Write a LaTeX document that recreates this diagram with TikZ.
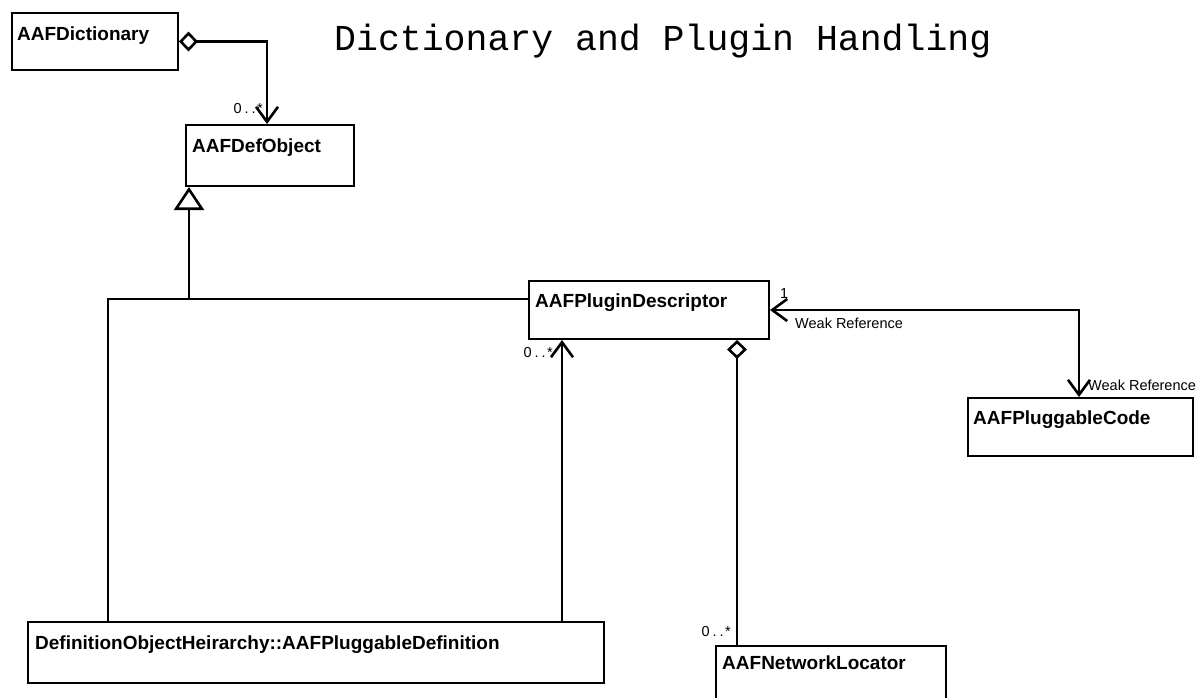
\documentclass[tikz,border=0pt]{standalone}
\usepackage{fontspec}
\setmainfont{Liberation Sans}
\newfontfamily\titlefont{Liberation Mono}
\usetikzlibrary{arrows.meta,calc}

\tikzset{
  barb/.tip={Straight Barb[length=15pt,width=22pt]},
  agg/.tip={Diamond[open,length=19pt,width=20pt]},
  gen/.tip={Triangle[open,length=23pt,width=30pt]},
}

\begin{document}
\begin{tikzpicture}[x=1pt,y=-1pt,
  classbox/.style={draw, line width=2pt, rectangle, inner sep=0pt, anchor=north west},
  classname/.style={anchor=base west, inner sep=0pt, font=\fontsize{19}{22}\selectfont\bfseries},
  conn/.style={line width=2.6pt, line join=miter},
  tag/.style={inner sep=0pt, font=\fontsize{14.5}{17}\selectfont},
  mult/.style={tag, anchor=base east},
]
\clip (0,0) rectangle (1199,697);
\fill[white] (0,0) rectangle (1199,697);

% title
\node[anchor=base west, inner sep=0pt, font=\titlefont\fontsize{36.5}{40}\selectfont]
  (title) at (334,50) {Dictionary and Plugin Handling};

% classes
\node[classbox, minimum width=166pt, minimum height=57pt] (dict)   at (11,12)   {};
\node[classbox, minimum width=168pt, minimum height=61pt] (defobj) at (185,124) {};
\node[classbox, minimum width=240pt, minimum height=58pt] (plugin) at (528,280) {};
\node[classbox, minimum width=225pt, minimum height=58pt] (code)   at (967,397) {};
\node[classbox, minimum width=576pt, minimum height=61pt] (pdef)   at (27,621)  {};
\node[classbox, minimum width=230pt, minimum height=62pt] (netloc) at (715,645) {};

\node[classname] (dictT)   at ($(dict.north west)+(6,28)$)   {AAFDictionary};
\node[classname] (defobjT) at ($(defobj.north west)+(7,28)$) {AAFDefObject};
\node[classname] (pluginT) at ($(plugin.north west)+(7,27)$) {AAFPluginDescriptor};
\node[classname] (codeT)   at ($(code.north west)+(6,27)$)   {AAFPluggableCode};
\node[classname] (pdefT)   at ($(pdef.north west)+(8,28)$)   {DefinitionObjectHeirarchy::AAFPluggableDefinition};
\node[classname] (netlocT) at ($(netloc.north west)+(7,24)$) {AAFNetworkLocator};

% dictionary owns its definitions
\coordinate (dictDrop) at ($(defobj.north west)+(82,0)$);
\draw[conn, agg-barb] (dict.east) -| (dictDrop);
\node[mult] (m1) at (263,113) {0\kern3pt.\kern3pt.\kern1.5pt*};

% generalization to AAFDefObject
\coordinate (hub)   at (189,299);
\coordinate (pdefL) at ($(pdef.north west)+(81,0)$);
\draw[conn] (pdefL) |- (plugin.west |- hub);
\draw[conn, -gen] (hub) -- (hub |- defobj.south);

% pluggable definitions refer to plugin descriptors
\coordinate (pdefR) at ($(pdef.north west)+(535,0)$);
\draw[conn, -barb] (pdefR) -- (pdefR |- plugin.south);
\node[mult] (m2) at (553,357) {0\kern3pt.\kern3pt.\kern1.5pt*};

% descriptor aggregates network locators
\coordinate (aggX) at (737,0);
\draw[conn, agg-] (aggX |- plugin.south) -- (aggX |- netloc.north);
\node[mult] (m3) at (731,636) {0\kern3pt.\kern3pt.\kern1.5pt*};

% weak references between descriptor and code
\coordinate (codeDrop) at ($(code.north west)+(112,0)$);
\draw[conn, barb-barb] (plugin.east) -| (codeDrop);
\node[tag, anchor=base west] (m4) at (780,298) {1};
\node[tag, anchor=base west] (w1) at (795,328) {Weak Reference};
\node[tag, anchor=base west] (w2) at (1088,390) {Weak Reference};
\end{tikzpicture}
\end{document}
